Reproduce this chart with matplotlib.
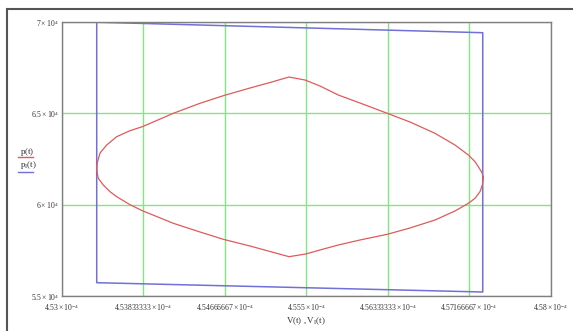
import numpy as np
import matplotlib.pyplot as plt
from matplotlib.lines import Line2D
from matplotlib.patches import Rectangle

plt.rcParams['font.family'] = ['Liberation Serif', 'DejaVu Serif']
plt.rcParams['mathtext.fontset'] = 'stix'

# red loop p(t) vs V(t), V in units of 1e-4
V_red = [4.53358, 4.53363, 4.53392, 4.53460, 4.53562, 4.53698, 4.53824, 4.54141,
         4.54414, 4.54652, 4.54925, 4.55130, 4.55324, 4.55488, 4.55641, 4.55828,
         4.56050, 4.56329, 4.56561, 4.56817, 4.57021, 4.57158, 4.57226, 4.57260,
         4.57295, 4.57311, 4.57311, 4.57301, 4.57277, 4.57226, 4.57158, 4.57021,
         4.56817, 4.56561, 4.56329, 4.56050, 4.55828, 4.55641, 4.55495, 4.55324,
         4.55130, 4.54925, 4.54652, 4.54414, 4.54141, 4.53824, 4.53698, 4.53562,
         4.53494, 4.53425, 4.53374, 4.53358]
p_red = [61898, 62282, 62829, 63267, 63721, 64050, 64269, 65002,
         65550, 65966, 66387, 66688, 66989, 66825, 66497, 66004,
         65566, 65002, 64526, 63907, 63267, 62720, 62353, 62079,
         61773, 61532, 61444, 61077, 60711, 60349, 60076, 59654,
         59161, 58724, 58379, 58067, 57793, 57519, 57300, 57153,
         57437, 57738, 58105, 58505, 58981, 59671, 59999, 60437,
         60711, 61077, 61444, 61898]

# blue quadrilateral p_I(t) vs V_I(t)
V_blue = [4.53358, 4.57305, 4.57305, 4.53358, 4.53358]
p_blue = [69990, 69414, 55220, 55729, 69990]

x_ticks = [4.53, 4.53833333, 4.54666667, 4.555, 4.56333333, 4.57166667, 4.58]
x_labels = ['4.53', '4.53833333', '4.54666667', '4.555', '4.56333333', '4.57166667', '4.58']
y_ticks = [55000, 60000, 65000, 70000]
y_labels = ['5.5', '6', '6.5', '7']

fig = plt.figure(figsize=(5.73, 3.31), dpi=100)
ax = fig.add_axes([0.1077, 0.1057, 0.8534, 0.8278])

ax.plot(np.array(V_blue) * 1e-4, p_blue, color='#7070d8', lw=1.1)
ax.plot(np.array(V_red) * 1e-4, p_red, color='#e05a5a', lw=0.9)

ax.set_xlim(4.53e-4, 4.58e-4)
ax.set_ylim(55000, 70000)
ax.set_xticks([v * 1e-4 for v in x_ticks])
ax.set_xticklabels([r'$\mathregular{' + s + r'\times10^{-4}}$' for s in x_labels])
ax.set_yticks(y_ticks)
ax.set_yticklabels([r'$\mathregular{' + s + r'\times10^{4}}$' for s in y_labels])
ax.tick_params(length=0, labelsize=5.5, colors='#333333')
ax.tick_params(axis='x', pad=4)
ax.tick_params(axis='y', pad=2)
ax.grid(True, color='#80e880', lw=1)
for s in ax.spines.values():
    s.set_color('#808080')
    s.set_linewidth(1)

ax.set_xlabel(r'$\mathregular{V(t)\ ,V_I(t)}$', fontsize=6.5, color='#333333', labelpad=2)

# legend at the left
fig.text(20 / 573, 1 - 152 / 331, r'$\mathregular{p(t)}$', fontsize=6.5, color='#333333', va='center')
fig.add_artist(Line2D([18 / 573, 33 / 573], [1 - 157 / 331] * 2, color='#e05a5a', lw=1))
fig.text(20 / 573, 1 - 165 / 331, r'$\mathregular{p_I(t)}$', fontsize=6.5, color='#333333', va='center')
fig.add_artist(Line2D([18 / 573, 33 / 573], [1 - 172 / 331] * 2, color='#7070d8', lw=1))

# outer frame
fig.add_artist(Rectangle((7 / 573, -0.05), 1.1, 1 - 9 / 331 + 0.05, transform=fig.transFigure,
                         fill=False, edgecolor='#555555', lw=1.5))

fig.savefig('out.png', dpi=100)
